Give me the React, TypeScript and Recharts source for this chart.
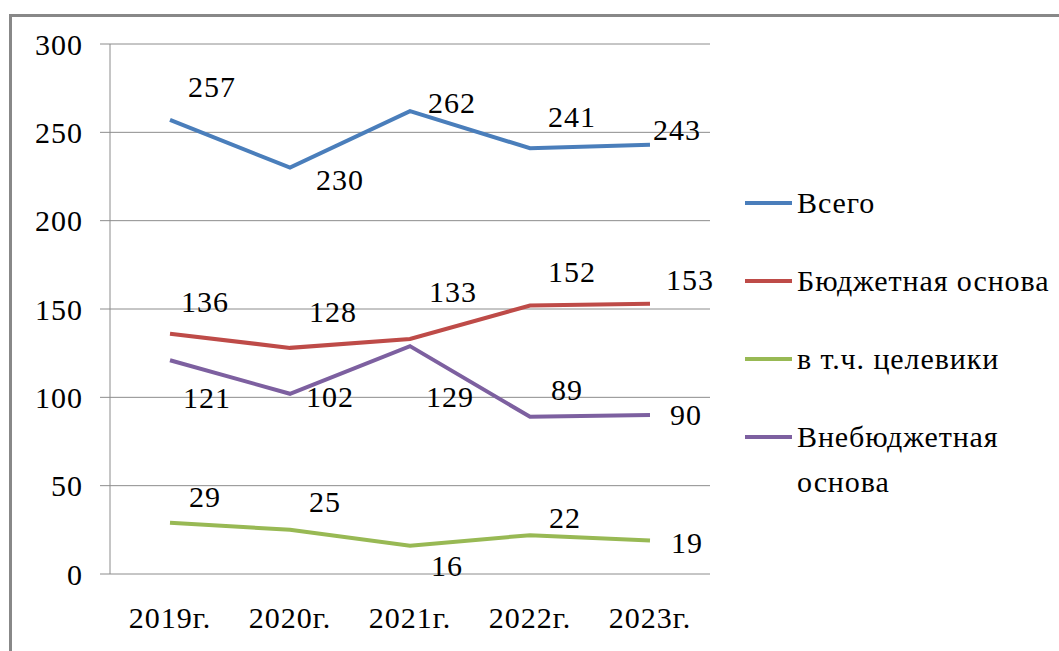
import { LineChart, Line, XAxis, YAxis, CartesianGrid, LabelList } from "recharts";

const years = ["2019г.", "2020г.", "2021г.", "2022г.", "2023г."];
const total = [257, 230, 262, 241, 243];
const budget = [136, 128, 133, 152, 153];
const targeted = [29, 25, 16, 22, 19];
const offBudget = [121, 102, 129, 89, 90];
const yTicks = [0, 50, 100, 150, 200, 250, 300];

const FONT = "Liberation Serif";
const GRID = "#8c8c8c";

// label offsets (dx, dy) from each point, hand-placed like in the original
const labelOffsets: Record<string, [number, number][]> = {
  total: [[42, -33], [50, 12], [42, -9], [42, -32], [27, -15]],
  budget: [[35, -32], [43, -36], [43, -48], [42, -34], [40, -24]],
  targeted: [[35, -26], [35, -28], [37, 20], [35, -18], [37, 2]],
  offBudget: [[37, 37], [40, 3], [40, 50], [37, -27], [36, -1]],
};

const series = [
  { key: "total", name: "Всего", color: "#4a7ebb" },
  { key: "budget", name: "Бюджетная основа", color: "#be4b48" },
  { key: "targeted", name: "в т.ч. целевики", color: "#98b954" },
  { key: "offBudget", name: "Внебюджетная основа", color: "#7d60a0" },
];

const data = years.map((year, i) => ({
  i,
  year,
  total: total[i],
  budget: budget[i],
  targeted: targeted[i],
  offBudget: offBudget[i],
}));

const boundaryTicks = [...years.map((_, i) => i - 0.5), years.length - 0.5];
const centerTicks = years.map((_, i) => i);
const xDomain = [-0.5, years.length - 0.5];

function makeLabel(key: string) {
  return (props: any) => {
    const { x, y, value, index } = props;
    const [dx, dy] = labelOffsets[key][index];
    return (
      <text
        x={x + dx}
        y={y + dy}
        textAnchor="middle"
        dominantBaseline="central"
        style={{ fontFamily: FONT, fontSize: 30, letterSpacing: 1 }}
        fill="#000"
      >
        {value}
      </text>
    );
  };
}

function Legend() {
  return (
    <div style={{ position: "absolute", left: 745, top: 180, width: 314, fontFamily: FONT, fontSize: 30, letterSpacing: 0.9 }}>
      {series.map((s) => (
        <div key={s.key} style={{ display: "flex", alignItems: "flex-start", lineHeight: "45px", marginBottom: 33 }}>
          <div style={{ width: 47, height: 4, background: s.color, marginTop: 21, marginRight: 5, flex: "none" }} />
          <div style={{ width: 262 }}>{s.name}</div>
        </div>
      ))}
    </div>
  );
}

const tickStyle = { fontFamily: FONT, fontSize: 30, fill: "#000", letterSpacing: 1 };

export default function App() {
  return (
    <div style={{ position: "fixed", left: 0, top: 0, width: 1059, height: 651, background: "#fff", overflow: "hidden", fontFamily: FONT }}>
      <div style={{ position: "absolute", left: 9, top: 14, right: 0, bottom: 0, borderTop: "3px solid #888", borderLeft: "3px solid #888" }} />
      <LineChart width={1059} height={651} data={data} margin={{ top: 44, right: 349, left: 40, bottom: 0 }} style={{ fontFamily: FONT }}>
        <CartesianGrid vertical={false} stroke={GRID} />
        <YAxis
          domain={[0, 300]}
          ticks={yTicks}
          width={70}
          axisLine={{ stroke: GRID }}
          tickLine={{ stroke: GRID }}
          tickSize={10}
          tickMargin={17}
          tick={tickStyle}
          interval={0}
        />
        <XAxis
          xAxisId="bounds"
          type="number"
          dataKey="i"
          domain={xDomain}
          ticks={boundaryTicks}
          tick={false}
          height={0}
          tickSize={9}
          axisLine={{ stroke: GRID }}
          tickLine={{ stroke: GRID }}
          interval={0}
        />
        <XAxis
          xAxisId="labels"
          type="number"
          dataKey="i"
          domain={xDomain}
          ticks={centerTicks}
          tickFormatter={(v) => years[v]}
          height={77}
          axisLine={false}
          tickLine={false}
          tickSize={0}
          tickMargin={33}
          tick={tickStyle}
          interval={0}
        />
        {series.map((s) => (
          <Line
            key={s.key}
            xAxisId="bounds"
            dataKey={s.key}
            name={s.name}
            stroke={s.color}
            strokeWidth={4}
            dot={false}
            isAnimationActive={false}
          >
            <LabelList dataKey={s.key} content={makeLabel(s.key)} />
          </Line>
        ))}
      </LineChart>
      <Legend />
    </div>
  );
}
